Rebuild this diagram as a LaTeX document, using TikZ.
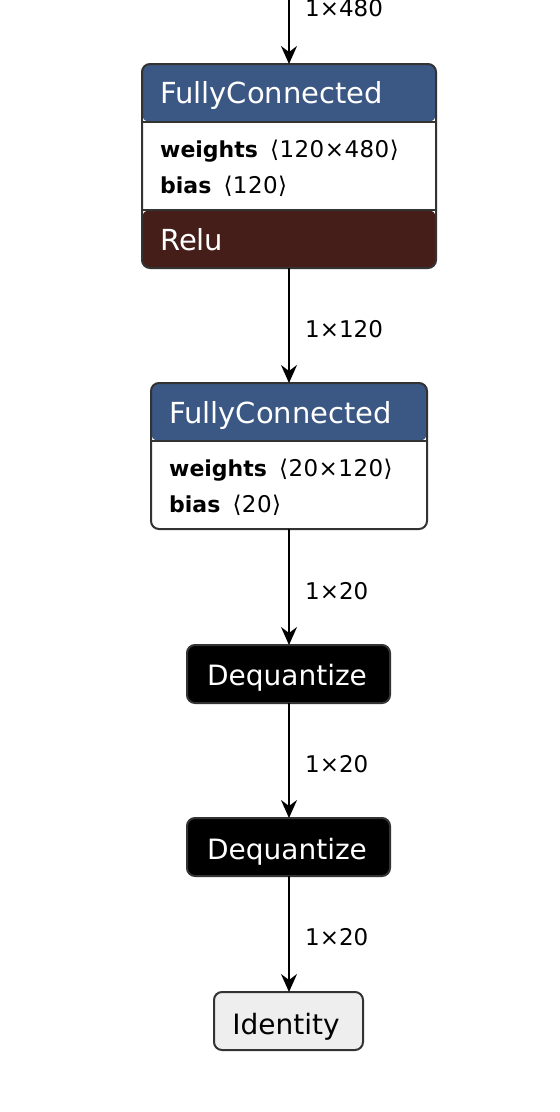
\documentclass[tikz,border=0pt]{standalone}
\usepackage{fontspec}
\setmainfont{DejaVu Sans}
\usetikzlibrary{arrows.meta}
\definecolor{hdrblue}{HTML}{3B5784}
\definecolor{relured}{HTML}{451E19}
\definecolor{bordergrey}{HTML}{333333}
\definecolor{idfill}{HTML}{EEEEEE}
\newcommand{\shp}[1]{\hspace{0.55em}{\fontsize{23}{26}\selectfont\addfontfeature{LetterSpace=2}#1}}
\begin{document}
\begin{tikzpicture}[x=1pt,y=-1pt,
  box/.style={draw=bordergrey, line width=2pt, rounded corners=8pt, inner sep=0pt, outer sep=0pt, anchor=north west},
  hdrtext/.style={anchor=base west, text=white, font=\fontsize{29}{32}\selectfont, inner sep=0pt},
  attrtext/.style={anchor=base west, text=black, font=\fontsize{22}{26}\selectfont, inner sep=0pt},
  celltext/.style={anchor=base, font=\fontsize{28}{32}\selectfont, inner sep=0pt},
  edgelabel/.style={anchor=base west, font=\fontsize{23}{27}\selectfont, inner sep=0pt},
  conn/.style={draw=black, line width=2.2pt, -{Stealth[length=18pt 0 0,width=16pt 0 0,inset=6pt 0]}},
  sepline/.style={draw=bordergrey, line width=1.5pt}
]
\useasboundingbox (0,0) rectangle (560,1112);

% FullyConnected 1
\node[box, minimum width=294pt, minimum height=204pt,
  path picture={
    \fill[hdrblue] (path picture bounding box.north west) rectangle ([yshift=-58pt]path picture bounding box.north east);
    \fill[relured] ([yshift=58pt]path picture bounding box.south west) rectangle (path picture bounding box.south east);
  }] (fc1) at (142,64) {};
\draw[sepline] (143,122) -- (435,122);
\draw[sepline] (143,210) -- (435,210);
\node[hdrtext] (fc1h) at (160,103) {FullyConnected};
\node[attrtext] (fc1w) at (160,157) {\textbf{weights}\shp{⟨120×480⟩}};
\node[attrtext] (fc1b) at (160,193) {\textbf{bias}\shp{⟨120⟩}};
\node[hdrtext] (fc1r) at (160,250) {Relu};

% FullyConnected 2
\node[box, minimum width=276pt, minimum height=146pt,
  path picture={
    \fill[hdrblue] (path picture bounding box.north west) rectangle ([yshift=-58pt]path picture bounding box.north east);
  }] (fc2) at (151,383) {};
\draw[sepline] (152,441) -- (426,441);
\node[hdrtext] (fc2h) at (169,423) {FullyConnected};
\node[attrtext] (fc2w) at (169,476) {\textbf{weights}\shp{⟨20×120⟩}};
\node[attrtext] (fc2b) at (169,512) {\textbf{bias}\shp{⟨20⟩}};

% Dequantize nodes
\node[box, fill=black, minimum width=203pt, minimum height=58pt] (dq1) at (187,645) {};
\node[celltext, text=white] (dq1t) at (287,685) {Dequantize};
\node[box, fill=black, minimum width=203pt, minimum height=58pt] (dq2) at (187,818) {};
\node[celltext, text=white] (dq2t) at (287,859) {Dequantize};

% Identity
\node[box, fill=idfill, minimum width=149pt, minimum height=58pt] (id) at (214,992) {};
\node[celltext, text=black] (idt) at (286,1034) {Identity};

% connectors
\coordinate (top) at (289,-2);
\draw[conn] (top) -- (top |- fc1.north);
\draw[conn] (fc1.south -| top) -- (top |- fc2.north);
\draw[conn] (fc2.south -| top) -- (top |- dq1.north);
\draw[conn] (dq1.south -| top) -- (top |- dq2.north);
\draw[conn] (dq2.south -| top) -- (top |- id.north);

% edge labels
\node[edgelabel] (l1) at (305,16) {1×480};
\node[edgelabel] (l2) at (305,337) {1×120};
\node[edgelabel] (l3) at (305,599) {1×20};
\node[edgelabel] (l4) at (305,772) {1×20};
\node[edgelabel] (l5) at (305,945) {1×20};
\end{tikzpicture}
\end{document}
